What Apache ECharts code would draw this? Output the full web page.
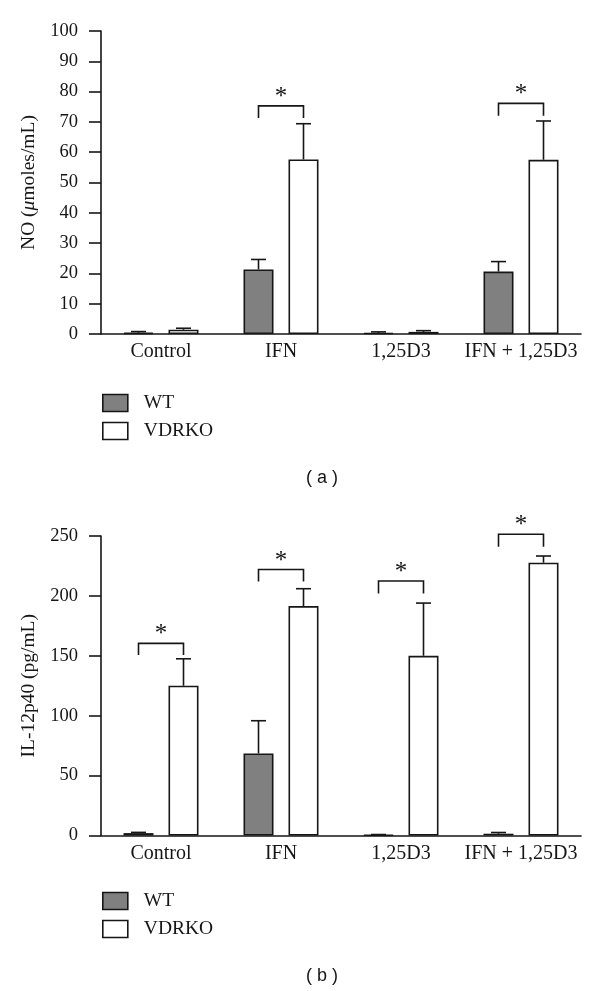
<!DOCTYPE html>
<html>
<head>
<meta charset="utf-8">
<script src="https://cdn.jsdelivr.net/npm/echarts@6/dist/echarts.min.js"></script>
<style>
html,body{margin:0;padding:0;background:#fff;}
#chart{width:600px;height:991px;}
</style>
</head>
<body>
<div id="chart"></div>
<script>
// ---- data ----
const categories = ['Control', 'IFN', '1,25D3', 'IFN + 1,25D3'];
const seriesNames = ['WT', 'VDRKO'];

// Panel (a): NO (µmoles/mL)
const noWT = [0.4, 21.3, 0.3, 20.6];
const noWTErr = [0.4, 3.3, 0.4, 3.3];
const noKO = [1.4, 57.6, 0.7, 57.5];
const noKOErr = [0.5, 11.8, 0.4, 12.8];
// significance brackets [categoryIndex, bracketTop, legBottom]
const noBrackets = [[1, 75.3, 71.3], [3, 76.1, 72.0]];
const noTicks = { min: 0, max: 100, interval: 10 };

// Panel (b): IL-12p40 (pg/mL)
const ilWT = [2.0, 68.5, 0.5, 1.5];
const ilWTErr = [0.6, 27.3, 0.3, 1.0];
const ilKO = [125, 191.5, 150, 227.7];
const ilKOErr = [22.5, 14.5, 44, 5.6];
const ilBrackets = [[0, 160.4, 150.7], [1, 222.0, 212.0], [2, 212.4, 202.0], [3, 251.4, 241.0]];
const ilTicks = { min: 0, max: 250, interval: 50 };

// ---- style ----
const SERIF = "'Liberation Serif', 'Times New Roman', serif";
const INK = '#161616';
const BAR_W = 30, BAR_GAP = 15;
const OFF = (BAR_W + BAR_GAP) / 2;
const CAP = 15;

function errItems(vals, errs) { return vals.map((v, i) => [i, v, errs[i]]); }

function errRender(sign) {
  return function (params, api) {
    const c = api.value(0), v = api.value(1), e = api.value(2);
    const p0 = api.coord([c, v]);
    const p1 = api.coord([c, v + e]);
    const x = p0[0] + sign * OFF;
    return {
      type: 'group',
      children: [
        { type: 'line', shape: { x1: x, y1: p0[1], x2: x, y2: p1[1] }, style: { stroke: INK, lineWidth: 1.6 } },
        { type: 'line', shape: { x1: x - CAP / 2, y1: p1[1], x2: x + CAP / 2, y2: p1[1] }, style: { stroke: INK, lineWidth: 1.6 } }
      ]
    };
  };
}

function bracketRender(params, api) {
  const c = api.value(0), top = api.value(1), leg = api.value(2);
  const pt = api.coord([c, top]);
  const pl = api.coord([c, leg]);
  const xl = pt[0] - OFF, xr = pt[0] + OFF;
  return {
    type: 'group',
    children: [
      { type: 'polyline', shape: { points: [[xl, pl[1]], [xl, pt[1]], [xr, pt[1]], [xr, pl[1]]] },
        style: { stroke: INK, lineWidth: 1.6, fill: null } },
      { type: 'text', x: pt[0], y: pt[1] + 4,
        style: { text: '*', fontFamily: SERIF, fontSize: 25, fill: INK, align: 'center', verticalAlign: 'bottom' } }
    ]
  };
}

function xAxisCfg(gridIndex) {
  return {
    type: 'category', gridIndex: gridIndex, data: categories,
    axisLine: { show: true, lineStyle: { color: INK, width: 1.6 } },
    axisTick: { show: false },
    axisLabel: { fontFamily: SERIF, fontSize: 20, color: INK, margin: 8, interval: 0 }
  };
}
function yAxisCfg(gridIndex, ticks, name, nameGap) {
  return {
    type: 'value', gridIndex: gridIndex, min: ticks.min, max: ticks.max, interval: ticks.interval,
    name: name, nameLocation: 'middle', nameGap: nameGap,
    nameTextStyle: { fontFamily: SERIF, fontSize: 19.5, color: INK,
      rich: { i: { fontFamily: SERIF, fontSize: 19.5, color: INK, fontStyle: 'italic' } } },
    axisLine: { show: true, lineStyle: { color: INK, width: 1.6 } },
    axisTick: { show: true, inside: false, length: 12, lineStyle: { color: INK, width: 1.6 } },
    splitLine: { show: false },
    axisLabel: { fontFamily: SERIF, fontSize: 18.5, color: INK, margin: 23 }
  };
}
function barSeries(name, data, axisIdx, color) {
  return {
    type: 'bar', name: name, data: data, xAxisIndex: axisIdx, yAxisIndex: axisIdx,
    barWidth: BAR_W, barGap: '50%',
    itemStyle: { color: color, borderColor: INK, borderWidth: 1.6 },
    emphasis: { disabled: true }
  };
}
function customSeries(data, axisIdx, render) {
  return {
    type: 'custom', data: data, xAxisIndex: axisIdx, yAxisIndex: axisIdx,
    renderItem: render, encode: { x: 0, y: 1 }, z: 5, silent: true
  };
}
function legendCfg(top) {
  return {
    data: seriesNames, orient: 'vertical', left: 102, top: top, padding: 0,
    itemWidth: 25, itemHeight: 17, itemGap: 8, selectedMode: false,
    icon: 'rect',
    itemStyle: { borderColor: INK, borderWidth: 1.6 },
    textStyle: { fontFamily: SERIF, fontSize: 19.5, color: INK, lineHeight: 19, padding: [0, 0, 0, 11] }
  };
}

const chart = echarts.init(document.getElementById('chart'), null, { renderer: 'canvas' });
chart.setOption({
  animation: false,
  backgroundColor: '#fff',
  grid: [
    { left: 101, right: 19, top: 31, bottom: 657, containLabel: false },
    { left: 101, right: 19, top: 536, bottom: 155.5, containLabel: false }
  ],
  xAxis: [xAxisCfg(0), xAxisCfg(1)],
  yAxis: [
    yAxisCfg(0, noTicks, 'NO ({i|μ}moles/mL)', 58),
    yAxisCfg(1, ilTicks, 'IL-12p40 (pg/mL)', 58)
  ],
  legend: [legendCfg(393), legendCfg(891)],
  series: [
    barSeries('WT', noWT, 0, '#808080'),
    barSeries('VDRKO', noKO, 0, '#ffffff'),
    customSeries(errItems(noWT, noWTErr), 0, errRender(-1)),
    customSeries(errItems(noKO, noKOErr), 0, errRender(1)),
    customSeries(noBrackets, 0, bracketRender),
    barSeries('WT', ilWT, 1, '#808080'),
    barSeries('VDRKO', ilKO, 1, '#ffffff'),
    customSeries(errItems(ilWT, ilWTErr), 1, errRender(-1)),
    customSeries(errItems(ilKO, ilKOErr), 1, errRender(1)),
    customSeries(ilBrackets, 1, bracketRender)
  ],
  graphic: [
    { type: 'text', x: 322, y: 478, style: { text: '( a )', fontFamily: "'Liberation Sans', Arial, sans-serif", fontSize: 18, fill: INK, align: 'center', verticalAlign: 'middle' } },
    { type: 'text', x: 322, y: 976, style: { text: '( b )', fontFamily: "'Liberation Sans', Arial, sans-serif", fontSize: 18, fill: INK, align: 'center', verticalAlign: 'middle' } }
  ]
});
</script>
</body>
</html>
